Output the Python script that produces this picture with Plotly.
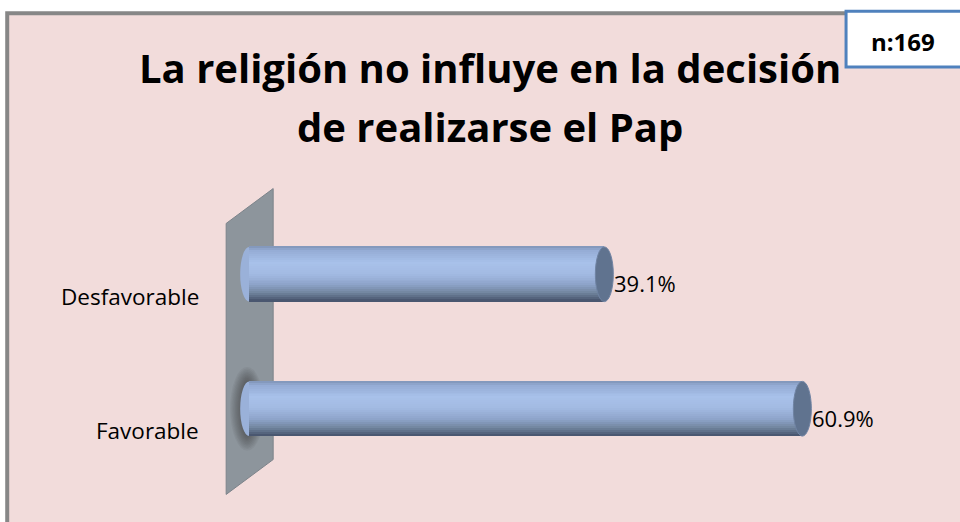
import plotly.graph_objects as go

# ---- data ----
categories = ["Favorable", "Desfavorable"]
values = [60.9, 39.1]
value_labels = ["60.9%", "39.1%"]
title_lines = ["La religión no influye en la decisión", "de realizarse el Pap"]
n_label = "n:169"

# ---- layout geometry (pixels) ----
W, H = 960, 522
SCALE = 9.085          # px per percentage point
X0PX = 249             # pixel of value 0
XMIN, XMAX = -2.0, 70.0
L = X0PX + XMIN * SCALE
PW = (XMAX - XMIN) * SCALE
R = W - L - PW
T, B = 206.5, 45.5
PH = H - T - B
BAR_W = 0.407

def px(xp):
    return (xp - L) / PW

def py(yp):
    return 1 - (yp - T) / PH

def hex2rgb(h):
    h = h.lstrip('#')
    return tuple(int(h[i:i + 2], 16) for i in (0, 2, 4))

def interp(stops, t):
    for (t0, c0), (t1, c1) in zip(stops, stops[1:]):
        if t0 <= t <= t1:
            f = (t - t0) / (t1 - t0) if t1 > t0 else 0
            a, b = hex2rgb(c0), hex2rgb(c1)
            return 'rgb(%d,%d,%d)' % tuple(round(a[i] + (b[i] - a[i]) * f) for i in range(3))
    return stops[-1][1]

stops = [(0.0, '#7F93B6'), (0.08, '#95ACD5'), (0.3, '#A8C1EA'), (0.5, '#A2BAE2'),
         (0.7, '#8EA4CA'), (0.85, '#72869F'), (1.0, '#45516A')]
N = 28
s = BAR_W / N

fig = go.Figure()
for i in range(N):
    col = interp(stops, (i + 0.5) / N)
    fig.add_trace(go.Bar(
        x=values, y=categories, orientation='h',
        width=s * 1.3, offset=BAR_W / 2 - (i + 1) * s,
        marker=dict(color=col, line=dict(width=0)),
        hoverinfo='skip', showlegend=False))

shapes = []
# chart area background + border
shapes.append(dict(type='rect', xref='paper', yref='paper', x0=px(7), x1=px(968),
                   y0=py(12), y1=py(532), fillcolor='#F2DCDB',
                   line=dict(color='#878787', width=4), layer='below'))
# wall
wall = [(226, 223), (273, 188), (273, 460), (226, 495)]
path = 'M ' + ' L '.join('%f,%f' % (px(a), py(b)) for a, b in wall) + ' Z'
shapes.append(dict(type='path', xref='paper', yref='paper', path=path,
                   fillcolor='#8D959C', line=dict(color='#7C838A', width=1), layer='below'))
# soft shadow at base of the longest bar
for k in range(10):
    dx = 17 - k * 1.2
    dy = 42 - k * 1.6
    shapes.append(dict(type='circle', xref='paper', yref='paper',
                       x0=px(247 - dx), x1=px(247 + dx), y0=py(409 + dy), y1=py(409 - dy),
                       fillcolor='rgba(55,55,60,0.07)', line=dict(width=0), layer='below'))

RX = 9 / SCALE
for i, v in enumerate(values):
    # left rounded end
    shapes.append(dict(type='circle', xref='x', yref='y', x0=-RX, x1=RX,
                       y0=i - BAR_W / 2, y1=i + BAR_W / 2,
                       fillcolor='#9AB1D9', line=dict(width=0), layer='below'))
    # right end cap
    shapes.append(dict(type='circle', xref='x', yref='y', x0=v - RX, x1=v + RX,
                       y0=i - BAR_W / 2, y1=i + BAR_W / 2,
                       fillcolor='#60738F', line=dict(color='#6F83A3', width=1), layer='above'))

# n box
shapes.append(dict(type='rect', xref='paper', yref='paper', x0=px(846), x1=px(966),
                   y0=py(10), y1=py(66), fillcolor='white',
                   line=dict(color='#4F81BD', width=3), layer='above'))

annotations = []
FONT = 'Open Sans'
annotations.append(dict(xref='paper', yref='paper', x=px(490), y=py(66), text='<b>%s</b>' % title_lines[0],
                        showarrow=False, xanchor='center', yanchor='middle',
                        font=dict(family=FONT, size=40, color='black')))
annotations.append(dict(xref='paper', yref='paper', x=px(490), y=py(126), text='<b>%s</b>' % title_lines[1],
                        showarrow=False, xanchor='center', yanchor='middle',
                        font=dict(family=FONT, size=40, color='black')))
annotations.append(dict(xref='paper', yref='paper', x=px(903), y=py(40), text='<b>%s</b>' % n_label,
                        showarrow=False, xanchor='center', yanchor='middle',
                        font=dict(family=FONT, size=24, color='black')))
for i, (c, v, lab) in enumerate(zip(categories, values, value_labels)):
    annotations.append(dict(xref='paper', yref='y', x=px(201), y=i, text=c, showarrow=False,
                            xanchor='right', yanchor='middle', yshift=-22,
                            font=dict(family=FONT, size=22.5, color='black')))
    annotations.append(dict(xref='x', yref='y', x=v, y=i, text=lab, showarrow=False,
                            xanchor='left', yanchor='middle', xshift=8, yshift=-9,
                            font=dict(family=FONT, size=22, color='black')))

fig.update_layout(
    width=W, height=H, margin=dict(l=L, r=R, t=T, b=B),
    paper_bgcolor='white', plot_bgcolor='rgba(0,0,0,0)',
    barmode='overlay', bargap=0,
    xaxis=dict(range=[XMIN, XMAX], visible=False, fixedrange=True),
    yaxis=dict(range=[-0.5, 1.5], visible=False, type='category',
               categoryorder='array', categoryarray=categories, fixedrange=True),
    shapes=shapes, annotations=annotations, showlegend=False,
)
fig.write_html('out.html', config={'displayModeBar': False},
               post_script="document.body.style.margin='0';document.body.style.overflow='hidden';")
